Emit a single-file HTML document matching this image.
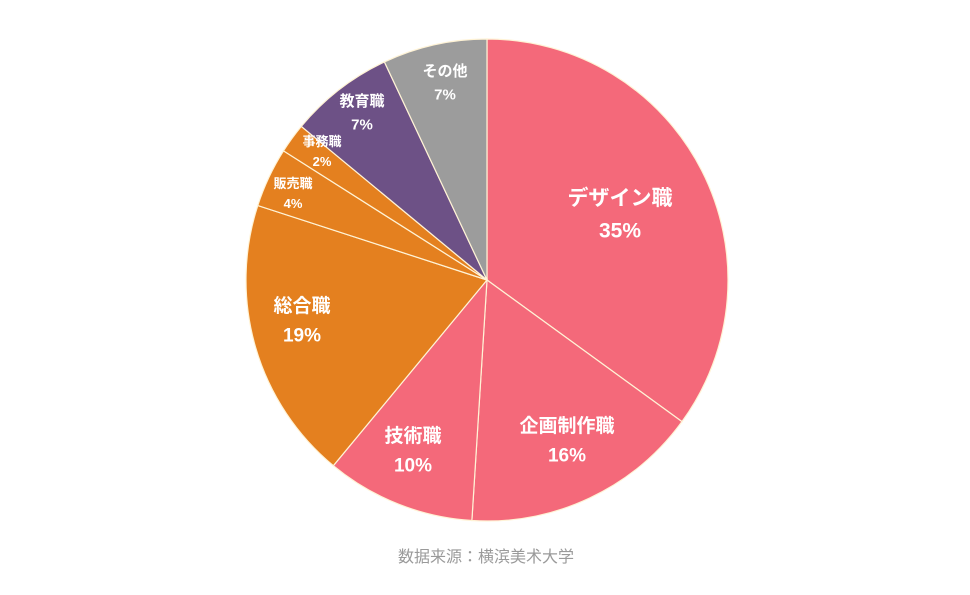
<!DOCTYPE html>
<html><head><meta charset="utf-8"><style>
body{margin:0;background:#fff;width:970px;height:590px;overflow:hidden}
text{font-family:"Liberation Sans","Noto Sans CJK JP",sans-serif;font-weight:bold;fill:#fff;text-anchor:middle}
</style></head><body>
<svg width="970" height="590">
<g id="slices"></g>
<g id="labels"></g>
<text x="486" y="562" style="fill:#9a9a9a;font-weight:normal;font-size:16px">数据来源：横滨美术大学</text>
</svg>
<script>
const categories=["デザイン職","企画制作職","技術職","総合職","販売職","事務職","教育職","その他"];
const values=[35,16,10,19,4,2,7,7];
const colors=["#f4697a","#f4697a","#f4697a","#e4801f","#e4801f","#e4801f","#6d5186","#9c9c9c"];
const labelPos=[[620,205,21],[567,432,19],[413,442,19],[302,312,19],[293,188,13],[322,146,13],[362,106,15],[445,76,15]];
const cx=487,cy=280,r=241,NS="http://www.w3.org/2000/svg";
const total=values.reduce((a,b)=>a+b,0);
const sg=document.getElementById('slices'),lg=document.getElementById('labels');
let acc=0;
function pt(f){const a=f*2*Math.PI;return [cx+r*Math.sin(a),cy-r*Math.cos(a)];}
values.forEach((v,i)=>{
 const f0=acc/total,f1=(acc+v)/total;acc+=v;
 const [x0,y0]=pt(f0),[x1,y1]=pt(f1);
 const p=document.createElementNS(NS,'path');
 p.setAttribute('d',`M${cx},${cy}L${x0},${y0}A${r},${r} 0 ${f1-f0>0.5?1:0} 1 ${x1},${y1}Z`);
 p.setAttribute('fill',colors[i]);p.setAttribute('stroke','#fff3d6');p.setAttribute('stroke-width','1.2');
 
 
 sg.appendChild(p);
 const [lx,ly,fs]=labelPos[i];
 const t=document.createElementNS(NS,'text');
 t.setAttribute('x',lx);t.setAttribute('y',ly);t.setAttribute('font-size',fs);
 
 
 const a=document.createElementNS(NS,'tspan');a.setAttribute('x',lx);a.textContent=categories[i];
 const b=document.createElementNS(NS,'tspan');b.setAttribute('x',lx);b.setAttribute('dy',fs*1.55);b.textContent=v+'%';
 t.appendChild(a);t.appendChild(b);lg.appendChild(t);
});
</script>
</body></html>
